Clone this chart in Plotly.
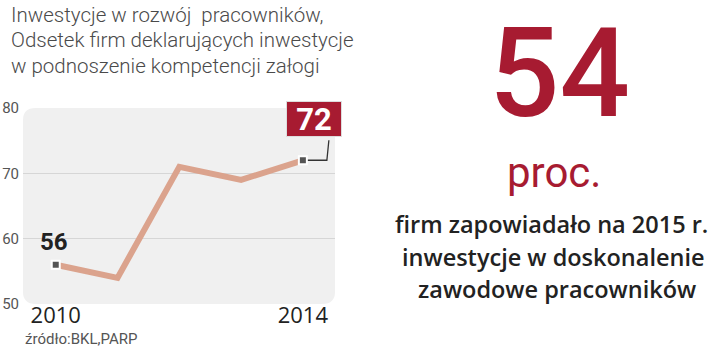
import plotly.graph_objects as go

# ---- data ----
years = [2010, 2011, 2012, 2013, 2014]
values = [56, 54, 71, 69, 72]
y_ticks = [50, 60, 70, 80]
x_ticks = [2010, 2014]
x_tick_labels = ["2010", "2014"]
title_lines = [
    "Inwestycje w rozwój  pracowników,",
    "Odsetek firm deklarujących inwestycje",
    "w podnoszenie kompetencji załogi",
]
big_number = "54"
big_unit = "proc."
side_lines = [
    "firm zapowiadało na 2015 r.",
    "inwestycje w doskonalenie",
    "zawodowe pracowników",
]
source = "źródło:BKL,PARP"

RED = "#a71b31"
LINE = "#dba38d"
FONT = "Roboto"

fig = go.Figure()

fig.add_trace(go.Scatter(
    x=years, y=values, mode="lines",
    line=dict(color=LINE, width=6), hoverinfo="skip", showlegend=False,
))
fig.add_trace(go.Scatter(
    x=[years[0], years[-1]], y=[values[0], values[-1]], mode="markers",
    marker=dict(symbol="square", size=8, color="#555555",
                line=dict(color="white", width=2)),
    hoverinfo="skip", showlegend=False,
))

shapes = []
# rounded plot background
rx, ry = 0.04, 0.062
path = (f"M {rx},0 L {1-rx},0 Q 1,0 1,{ry} L 1,{1-ry} Q 1,1 {1-rx},1 "
        f"L {rx},1 Q 0,1 0,{1-ry} L 0,{ry} Q 0,0 {rx},0 Z")
shapes.append(dict(type="path", xref="paper", yref="paper", path=path,
                   fillcolor="#f0f0f0", line=dict(width=0), layer="below"))
# elbow connector from last point to the label box
shapes.append(dict(type="path", xref="x", yref="y",
                   xsizemode="pixel", ysizemode="pixel",
                   xanchor=years[-1], yanchor=values[-1],
                   path="M 5,0 L 24,0 L 26,20",
                   line=dict(color="#333333", width=1.3), layer="above"))

def px_x(px):
    return (px - 23) / 312
def px_y(py):
    return (304 - py) / 196

annotations = []
title_y = [15, 40, 66]
for t, yy in zip(title_lines, title_y):
    annotations.append(dict(text=t, xref="paper", yref="paper",
                            x=px_x(9), y=px_y(yy),
                            xanchor="left", yanchor="middle", showarrow=False,
                            font=dict(family=FONT, size=20.5, color="#4a4a4a", weight=300)))
# first value label
annotations.append(dict(text=str(values[0]), x=years[0], y=values[0],
                        xref="x", yref="y", showarrow=False, yshift=23, xshift=-2,
                        font=dict(family=FONT, size=24, color="#222222", weight=700)))
# last value boxed label
annotations.append(dict(text=str(values[-1]), x=years[-1], y=values[-1],
                        xref="x", yref="y", showarrow=False, yshift=41, xshift=11,
                        width=54, height=34, bgcolor=RED, bordercolor="#dddddd",
                        borderwidth=1, borderpad=0,
                        font=dict(family=FONT, size=31, color="white", weight=700)))
# source
annotations.append(dict(text=source, xref="paper", yref="paper",
                        x=0, y=px_y(339), xanchor="left", yanchor="middle",
                        showarrow=False,
                        font=dict(family=FONT, size=15, color="#555555")))
# right side block
annotations.append(dict(text=big_number, xref="paper", yref="paper",
                        x=px_x(559), y=px_y(73), xanchor="center", yanchor="middle",
                        showarrow=False,
                        font=dict(family=FONT, size=124, color=RED, weight=500)))
annotations.append(dict(text=big_unit, xref="paper", yref="paper",
                        x=px_x(554), y=px_y(172), xanchor="center", yanchor="middle",
                        showarrow=False,
                        font=dict(family=FONT, size=42, color=RED, weight=400)))
for t, yy, xx in zip(side_lines, [224, 257, 289], [551, 553, 557]):
    annotations.append(dict(text=t, xref="paper", yref="paper",
                            x=px_x(xx), y=px_y(yy), xanchor="center", yanchor="middle",
                            showarrow=False,
                            font=dict(family="Open Sans", size=23.5, color="#222222", weight=600)))

fig.update_layout(
    width=720, height=357, autosize=False,
    margin=dict(l=23, r=385, t=108, b=53, pad=0),
    paper_bgcolor="white", plot_bgcolor="rgba(0,0,0,0)",
    shapes=shapes, annotations=annotations,
    xaxis=dict(range=[2009.47, 2014.52], tickvals=x_ticks, ticktext=x_tick_labels,
               showgrid=False, zeroline=False, showline=False, ticks="",
               automargin=False, ticklabelstandoff=-4,
               tickfont=dict(family="Open Sans", size=22, color="#222222"),
               fixedrange=True),
    yaxis=dict(range=[50, 80], tickvals=y_ticks, showgrid=True,
               gridcolor="#d6d6d6", gridwidth=1, zeroline=False, showline=False,
               ticks="", ticklabelstandoff=3, automargin=False,
               tickfont=dict(family=FONT, size=15, color="#555555"),
               fixedrange=True),
    font=dict(family=FONT),
)

fig.write_html("out.html", config={"displayModeBar": False},
               post_script="document.body.style.margin='0';")
